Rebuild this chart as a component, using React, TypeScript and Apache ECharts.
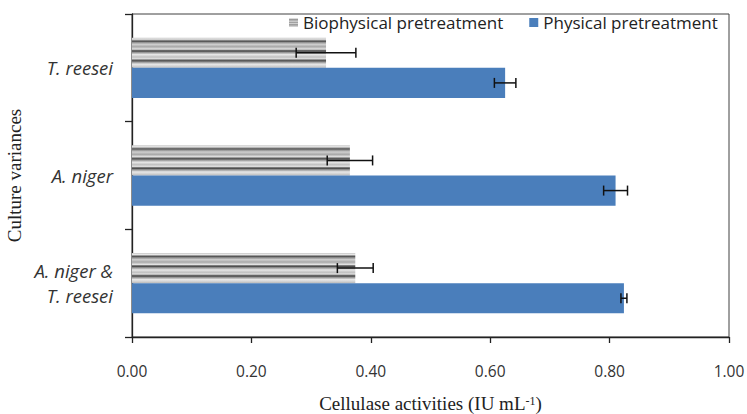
import React, { useEffect, useRef } from "react";
import * as echarts from "echarts";

const categories = ["A. niger &\nT. reesei", "A. niger", "T. reesei"];
const seriesNames = ["Biophysical pretreatment", "Physical pretreatment"];
const biophysical = [0.374, 0.365, 0.325];
const biophysicalErr = [0.03, 0.038, 0.05];
const physical = [0.824, 0.81, 0.625];
const physicalErr = [0.005, 0.02, 0.018];
const xMin = 0;
const xMax = 1;
const xInterval = 0.2;

const BAR_GAP = 0.44;

const stripe = new echarts.graphic.LinearGradient(0, 0, 0, 1, [
  { offset: 0.0, color: "#c8c8c8" },
  { offset: 0.05, color: "#e8e8e8" },
  { offset: 0.09, color: "#8a8a8a" },
  { offset: 0.12, color: "#4d4d4d" },
  { offset: 0.15, color: "#8a8a8a" },
  { offset: 0.22, color: "#d0d0d0" },
  { offset: 0.3, color: "#a8a8a8" },
  { offset: 0.38, color: "#e4e4e4" },
  { offset: 0.42, color: "#6a6a6a" },
  { offset: 0.45, color: "#4d4d4d" },
  { offset: 0.48, color: "#8a8a8a" },
  { offset: 0.56, color: "#e8e8e8" },
  { offset: 0.64, color: "#c0c0c0" },
  { offset: 0.7, color: "#e0e0e0" },
  { offset: 0.74, color: "#6a6a6a" },
  { offset: 0.77, color: "#4d4d4d" },
  { offset: 0.8, color: "#8a8a8a" },
  { offset: 0.88, color: "#e8e8e8" },
  { offset: 0.95, color: "#d0d0d0" },
  { offset: 1.0, color: "#b8b8b8" },
]);

function errSeries(vals: number[], errs: number[], pos: number) {
  return {
    type: "custom",
    silent: true,
    z: 10,
    data: vals.map((v, i) => [i, v - errs[i], v + errs[i]]),
    encode: { x: [1, 2], y: 0 },
    renderItem: (params: any, api: any) => {
      const cat = api.value(0);
      const p1 = api.coord([api.value(1), cat]);
      const p2 = api.coord([api.value(2), cat]);
      const band = api.size([0, 1])[1];
      const barW = (band * (1 - BAR_GAP)) / 2;
      const y = p1[1] - barW + barW * (pos + 0.5);
      const h = 5;
      const style = { stroke: "#111", lineWidth: 1.5 };
      return {
        type: "group",
        children: [
          { type: "line", shape: { x1: p1[0], y1: y, x2: p2[0], y2: y }, style },
          { type: "line", shape: { x1: p1[0], y1: y - h, x2: p1[0], y2: y + h }, style },
          { type: "line", shape: { x1: p2[0], y1: y - h, x2: p2[0], y2: y + h }, style },
        ],
      };
    },
  };
}

export default function App() {
  const ref = useRef<HTMLDivElement>(null);
  useEffect(() => {
    const chart = echarts.init(ref.current!, undefined, { renderer: "svg" });
    chart.setOption({
      animation: false,
      grid: {
        left: 132,
        right: 18,
        top: 14,
        bottom: 77,
        show: true,
        borderColor: "#404040",
        borderWidth: 1,
        containLabel: false,
        outerBoundsMode: "none",
      },
      legend: {
        data: seriesNames,
        left: 284,
        top: 9,
        itemWidth: 9,
        itemHeight: 9,
        itemGap: 26,
        icon: "rect",
        textStyle: { fontFamily: "Open Sans", fontSize: 17, color: "#222" },
      },
      xAxis: {
        type: "value",
        min: xMin,
        max: xMax,
        interval: xInterval,
        splitLine: { show: false },
        axisLine: { show: true, lineStyle: { color: "#222", width: 1.3 } },
        axisTick: { show: true, length: 6, lineStyle: { color: "#222", width: 1.3 } },
        axisLabel: {
          margin: 26,
          fontFamily: "Open Sans",
          fontSize: 15.5,
          color: "#333",
          formatter: (v: number) => v.toFixed(2),
        },
        name: "Cellulase activities (IU mL{sup|-1})",
        nameLocation: "middle",
        nameGap: 57,
        nameTextStyle: {
          fontFamily: "Liberation Serif",
          fontSize: 19,
          color: "#222",
          rich: {
            sup: { fontFamily: "Liberation Serif", fontSize: 12, padding: [0, 0, 6, 0], color: "#222" },
          },
        },
      },
      yAxis: {
        type: "category",
        data: categories,
        axisLine: { show: true, lineStyle: { color: "#222", width: 1.3 } },
        axisTick: { show: true, length: 7, lineStyle: { color: "#222", width: 1.3 } },
        axisLabel: {
          margin: 19,
          fontFamily: "Open Sans",
          fontStyle: "italic",
          fontSize: 18.5,
          lineHeight: 25,
          color: "#333",
          align: "right",
        },
        name: "Culture variances",
        nameLocation: "middle",
        nameGap: 101,
        nameRotate: 90,
        nameTextStyle: { fontFamily: "Liberation Serif", fontSize: 19, color: "#222" },
      },
      series: [
        {
          name: seriesNames[0],
          type: "bar",
          data: biophysical,
          barGap: "0%",
          barCategoryGap: BAR_GAP * 100 + "%",
          itemStyle: { color: stripe },
        },
        {
          name: seriesNames[1],
          type: "bar",
          data: physical,
          barGap: "0%",
          barCategoryGap: BAR_GAP * 100 + "%",
          itemStyle: { color: "#4a7ebb" },
        },
        errSeries(biophysical, biophysicalErr, 0),
        errSeries(physical, physicalErr, 1),
      ],
    });
    return () => chart.dispose();
  }, []);
  return (
    <div
      ref={ref}
      style={{ position: "fixed", left: 0, top: 0, width: 747, height: 414, background: "#fff" }}
    />
  );
}
